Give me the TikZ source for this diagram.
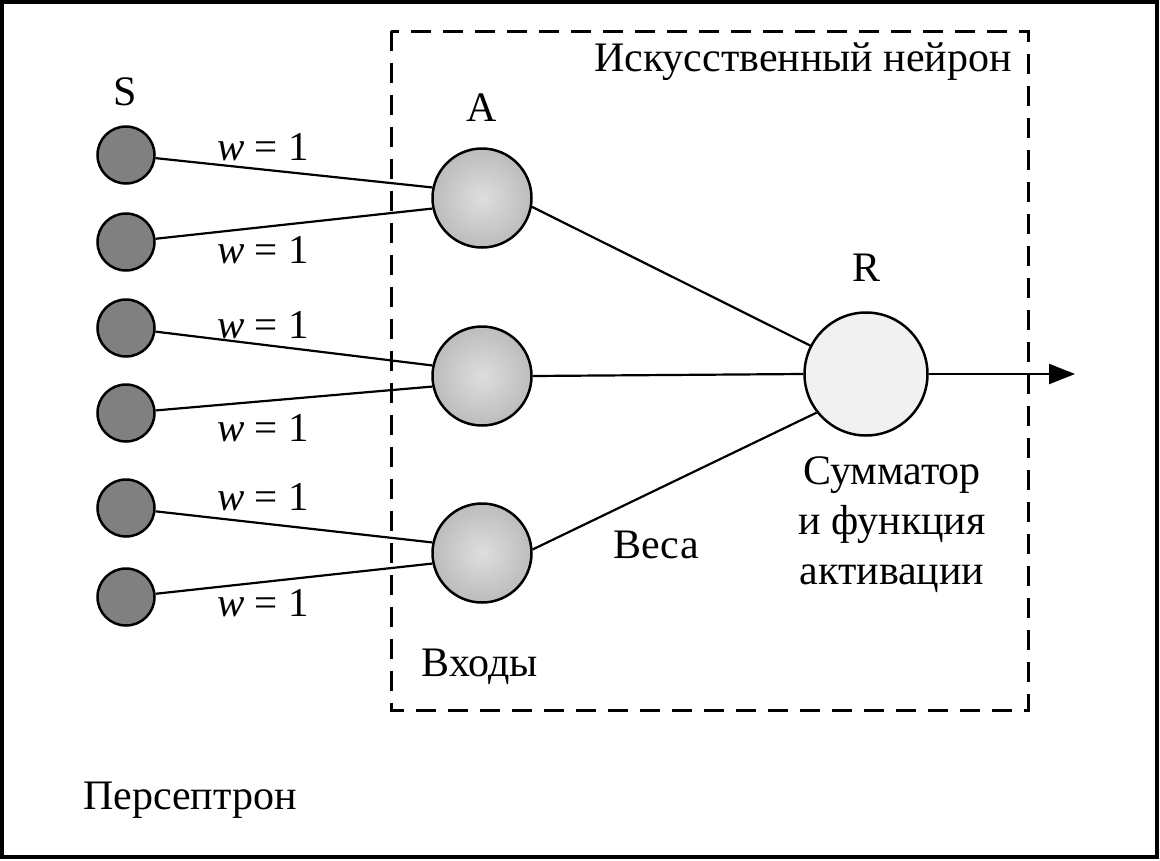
\documentclass[tikz,border=0pt]{standalone}
\usepackage{fontspec}
\setmainfont{Liberation Serif}
\usetikzlibrary{arrows.meta}
\definecolor{sgray}{RGB}{128,128,128}
\definecolor{ain}{RGB}{222,222,222}
\definecolor{aout}{RGB}{188,188,188}
\definecolor{rfill}{RGB}{241,241,241}
\begin{document}
\begin{tikzpicture}[x=1pt,y=-1pt,
  every node/.style={font=\fontsize{42}{50}\selectfont},
  snode/.style={circle,draw,line width=2.5pt,fill=sgray,minimum size=57pt,inner sep=0pt},
  anode/.style={circle,draw,line width=2.5pt,shading=radial,inner color=ain,outer color=aout,minimum size=99pt,inner sep=0pt},
  rnode/.style={circle,draw,line width=2.5pt,fill=rfill,minimum size=123pt,inner sep=0pt},
  conn/.style={line width=2.2pt},
  wlab/.style={inner sep=0pt,font=\fontsize{41}{50}\selectfont},
  txt/.style={inner sep=0pt,align=center}]
\useasboundingbox (0,0) rectangle (1160,860);
\draw[line width=3.5pt] (2,2) rectangle (1157,857);
\draw[line width=3pt,dash pattern=on 20pt off 12pt] (391,31) rectangle (1028,710);
% S nodes
\node[snode] (s1) at (126,155) {};
\node[snode] (s2) at (126,242) {};
\node[snode] (s3) at (126,328) {};
\node[snode] (s4) at (126,413) {};
\node[snode] (s5) at (126,508) {};
\node[snode] (s6) at (126,597) {};
% A nodes
\node[anode] (a1) at (482,198) {};
\node[anode] (a2) at (482,376) {};
\node[anode] (a3) at (482,553) {};
% R node
\node[rnode] (r) at (866,374) {};
\coordinate (out) at (1075,374);
% connectors S -> A
\draw[conn] (s1) -- (a1.168);
\draw[conn] (s2) -- (a1.192);
\draw[conn] (s3) -- (a2.168);
\draw[conn] (s4) -- (a2.192);
\draw[conn] (s5) -- (a3.168);
\draw[conn] (s6) -- (a3.192);
% connectors A -> R
\draw[conn] (a1.-10) -- (r.153);
\draw[conn] (a2.east) -- (r.west);
\draw[conn] (a3.4) -- (r.218);
\draw[conn,-{Triangle[length=26pt,width=20pt]}] (r.east) -- (out);
% weight labels
\node[wlab] (w1) at (263,147) {\textit{w} = 1};
\node[wlab] (w2) at (263,250) {\textit{w} = 1};
\node[wlab] (w3) at (263,325) {\textit{w} = 1};
\node[wlab] (w4) at (263,428) {\textit{w} = 1};
\node[wlab] (w5) at (263,497) {\textit{w} = 1};
\node[wlab] (w6) at (263,603) {\textit{w} = 1};
% text labels
\node[txt] (ls) at (125,92) {S};
\node[txt] (la) at (482,108) {A};
\node[txt] (lr) at (866,268) {R};
\node[txt] (neuron) at (803,62) {Искусственный нейрон};
\node[txt] (vesa) at (656,545) {Веса};
\node[txt] (summ) at (892,525) {Сумматор\\и функция\\активации};
\node[txt] (vhody) at (480,667) {Входы};
\node[txt] (perc) at (190,800) {Персептрон};
\end{tikzpicture}
\end{document}
